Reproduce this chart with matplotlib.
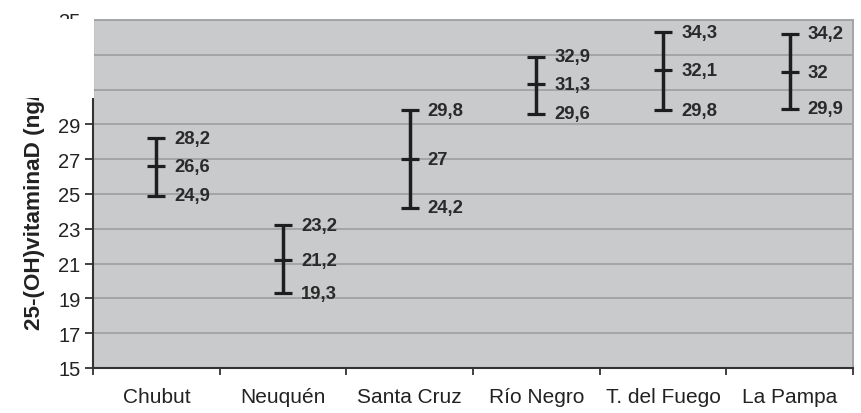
import matplotlib
matplotlib.use("Agg")
import matplotlib.pyplot as plt
from matplotlib.patches import Rectangle

# Valores de 25-(OH)vitamina D por provincia (mínimo, media, máximo)
provincias = ["Chubut", "Neuquén", "Santa Cruz", "Río Negro", "T. del Fuego", "La Pampa"]
minimos = [24.9, 19.3, 24.2, 29.6, 29.8, 29.9]
medias = [26.6, 21.2, 27.0, 31.3, 32.1, 32.0]
maximos = [28.2, 23.2, 29.8, 32.9, 34.3, 34.2]
y_ticks = [15, 17, 19, 21, 23, 25, 27, 29, 31, 33, 35]


def fmt(v):
    # coma decimal, sin ",0"
    return f"{v:g}".replace(".", ",")


plt.rcParams["font.family"] = ["Liberation Sans", "DejaVu Sans"]

fig = plt.figure(figsize=(8.62, 4.14), dpi=100)
ax = fig.add_axes([93 / 862, 45 / 414, 760 / 862, 348 / 414])
ax.set_facecolor("#c9cacc")

x = list(range(len(provincias)))
err_bajo = [m - lo for m, lo in zip(medias, minimos)]
err_alto = [hi - m for m, hi in zip(medias, maximos)]
ax.errorbar(x, medias, yerr=[err_bajo, err_alto], fmt="_", color="#1e1e1e",
            markersize=13, markeredgewidth=2.3, elinewidth=2.5,
            capsize=6.8, capthick=2.3, zorder=3)

for xi, lo, m, hi in zip(x, minimos, medias, maximos):
    for v in (lo, m, hi):
        ax.annotate(fmt(v), (xi, v), xytext=(13, 0), textcoords="offset points",
                    ha="left", va="center", fontsize=13.3, fontweight="bold",
                    color="#2a2a2a")

ax.set_xlim(-0.5, len(provincias) - 0.5)
ax.set_ylim(15, 35)
ax.set_yticks(y_ticks)
ax.set_yticklabels([str(t) for t in y_ticks], fontsize=14.5, color="#222222")
ax.set_xticks(x)
ax.set_xticklabels(provincias, fontsize=15, color="#222222")
ax.tick_params(axis="x", length=0, pad=14)
ax.tick_params(axis="y", length=6, width=1.3, color="#333333", pad=3)

# marcas entre categorías en el eje x
ax.set_xticks([i - 0.5 for i in range(len(provincias) + 1)], minor=True)
ax.tick_params(axis="x", which="minor", length=5, width=1.3, color="#333333")

ax.yaxis.grid(True, color="#a3a4a6", linewidth=1.4)
ax.set_axisbelow(True)
for lado in ("left", "bottom"):
    ax.spines[lado].set_color("#333333")
    ax.spines[lado].set_linewidth(1.5)
for lado in ("top", "right"):
    ax.spines[lado].set_color("#a3a4a6")
    ax.spines[lado].set_linewidth(1.4)

ax.set_ylabel("25-(OH)vitaminaD (ng/ml)", fontsize=16.2, fontweight="bold",
              color="#222222", labelpad=9)

# recuadro blanco sobre la esquina superior izquierda
fig.add_artist(Rectangle((0, 1 - 99 / 414), 94 / 862, 79 / 414,
                         transform=fig.transFigure, facecolor="white",
                         edgecolor="none", zorder=10))

fig.savefig("out.png", dpi=100)
